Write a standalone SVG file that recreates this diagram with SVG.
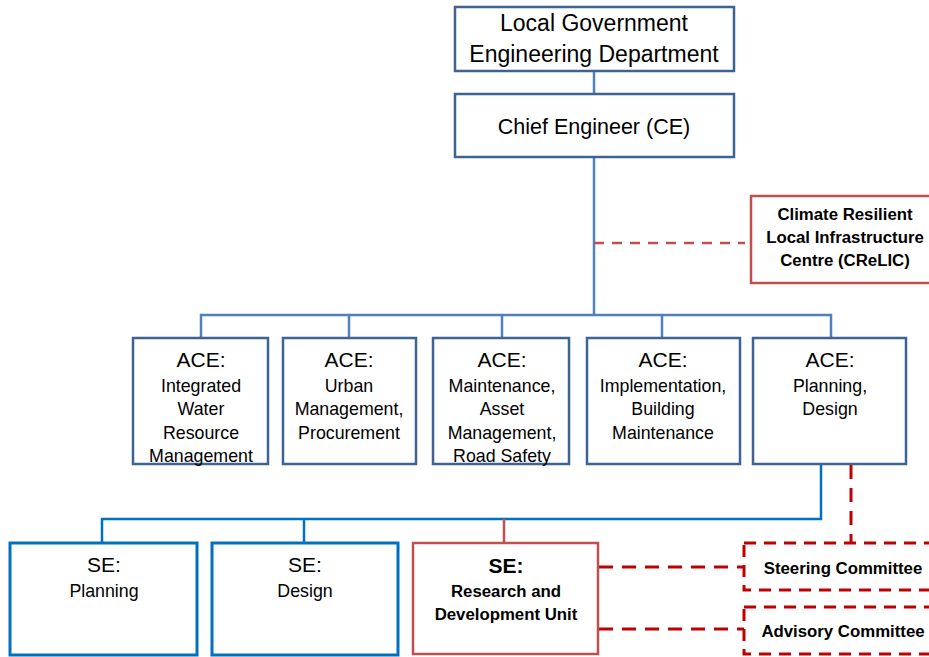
<svg xmlns="http://www.w3.org/2000/svg" width="929" height="657" viewBox="0 0 929 657">
<style>
  text { font-family: "Liberation Sans", Arial, sans-serif; fill: #000; text-anchor: middle; }
  .box { fill: #fff; stroke: #3f6395; stroke-width: 2.5; }
  .se { fill: #fff; stroke: #0070c0; stroke-width: 3; }
  .red { fill: #fff; stroke: #c0504d; stroke-width: 2.5; }
  .dbox { fill: #fff; stroke: #c00000; stroke-width: 3; stroke-dasharray: 12 8; }
  .bus { fill: none; stroke: #4f81bd; stroke-width: 2.5; }
  .bus2 { fill: none; stroke: #0070c0; stroke-width: 2.5; }
  .redl { fill: none; stroke: #c0504d; stroke-width: 2.5; }
  .rdash { fill: none; stroke: #c0504d; stroke-width: 2.5; stroke-dasharray: 10 8; }
  .ddash { fill: none; stroke: #c00000; stroke-width: 3; stroke-dasharray: 14 9; }
  .top { font-size: 23px; }
  .big { font-size: 21.5px; }
  .h { font-size: 21px; }
  .s { font-size: 17.8px; }
  .b { font-weight: bold; font-size: 16.8px; }
</style>
<g id="connectors">
  <line class="bus" x1="594" y1="71" x2="594" y2="94"/>
  <line class="bus" x1="594" y1="157" x2="594" y2="315"/>
  <polyline class="bus" points="201,338 201,315 831,315 831,338"/>
  <line class="bus" x1="349" y1="315" x2="349" y2="338"/>
  <line class="bus" x1="502" y1="315" x2="502" y2="338"/>
  <line class="bus" x1="662" y1="315" x2="662" y2="338"/>
  <line class="rdash" x1="594" y1="243" x2="745" y2="243"/>
  <polyline class="bus2" points="821,464 821,519 102,519 102,543"/>
  <line class="bus2" x1="304" y1="519" x2="304" y2="543"/>
  <line class="redl" x1="504" y1="519" x2="504" y2="543"/>
  <line class="ddash" x1="851" y1="465" x2="851" y2="543"/>
  <line class="ddash" x1="599" y1="567" x2="744" y2="567"/>
  <line class="ddash" x1="599" y1="629" x2="744" y2="629"/>
</g>
<g id="lged">
  <rect class="box" x="455" y="7" width="279" height="64"/>
  <text class="top" x="594" y="31">Local Government</text>
  <text class="top" x="594" y="62">Engineering Department</text>
</g>
<g id="ce">
  <rect class="box" x="455" y="94" width="279" height="63"/>
  <text class="big" x="594" y="134">Chief Engineer (CE)</text>
</g>
<g id="crelic">
  <rect class="red" x="751" y="196" width="190" height="87"/>
  <text class="b" x="845" y="220">Climate Resilient</text>
  <text class="b" x="845" y="243">Local Infrastructure</text>
  <text class="b" x="845" y="266">Centre (CReLIC)</text>
</g>
<g id="ace1">
  <rect class="box" x="133" y="338" width="135" height="126"/>
  <text class="h" x="201" y="367">ACE:</text>
  <text class="s" x="201" y="392">Integrated</text>
  <text class="s" x="201" y="415">Water</text>
  <text class="s" x="201" y="439">Resource</text>
  <text class="s" x="201" y="462">Management</text>
</g>
<g id="ace2">
  <rect class="box" x="283" y="338" width="133" height="126"/>
  <text class="h" x="349" y="367">ACE:</text>
  <text class="s" x="349" y="392">Urban</text>
  <text class="s" x="349" y="415">Management,</text>
  <text class="s" x="349" y="439">Procurement</text>
</g>
<g id="ace3">
  <rect class="box" x="433" y="338" width="136" height="126"/>
  <text class="h" x="502" y="367">ACE:</text>
  <text class="s" x="502" y="392">Maintenance,</text>
  <text class="s" x="502" y="415">Asset</text>
  <text class="s" x="502" y="439">Management,</text>
  <text class="s" x="502" y="462">Road Safety</text>
</g>
<g id="ace4">
  <rect class="box" x="587" y="338" width="153" height="126"/>
  <text class="h" x="663" y="367">ACE:</text>
  <text class="s" x="663" y="392">Implementation,</text>
  <text class="s" x="663" y="415">Building</text>
  <text class="s" x="663" y="439">Maintenance</text>
</g>
<g id="ace5">
  <rect class="box" x="753" y="338" width="153" height="126"/>
  <text class="h" x="830" y="367">ACE:</text>
  <text class="s" x="830" y="392">Planning,</text>
  <text class="s" x="830" y="415">Design</text>
</g>
<g id="se-planning">
  <rect class="se" x="10" y="543" width="187" height="112"/>
  <text class="h" x="104" y="572">SE:</text>
  <text class="s" x="104" y="597">Planning</text>
</g>
<g id="se-design">
  <rect class="se" x="212" y="543" width="186" height="112"/>
  <text class="h" x="305" y="572">SE:</text>
  <text class="s" x="305" y="597">Design</text>
</g>
<g id="se-rd">
  <rect class="red" x="413" y="543" width="185" height="111"/>
  <text class="h" x="506" y="573" font-weight="bold">SE:</text>
  <text class="b" x="506" y="597">Research and</text>
  <text class="b" x="506" y="620">Development Unit</text>
</g>
<g id="steering">
  <rect class="dbox" x="744" y="543" width="200" height="47"/>
  <text class="b" x="843" y="574">Steering Committee</text>
</g>
<g id="advisory">
  <rect class="dbox" x="744" y="607" width="200" height="47"/>
  <text class="b" x="843" y="637">Advisory Committee</text>
</g>
</svg>
